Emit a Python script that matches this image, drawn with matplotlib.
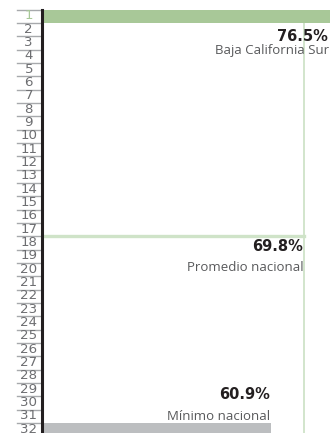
import matplotlib.pyplot as plt
from matplotlib.transforms import blended_transform_factory

# ranking positions and the values shown
ranks = list(range(1, 33))
top_rank = 1
top_value = 76.5
top_label = "Baja California Sur"
min_rank = 32
min_value = 60.9
min_label = "Mínimo nacional"
avg_value = 69.8
avg_label = "Promedio nacional"

green = "#a8c898"
light_green = "#cfe3c8"
gray_bar = "#bcbec0"
num_gray = "#6d6e71"

fig = plt.figure(figsize=(3.31, 4.33), dpi=100)
ax = fig.add_axes([42 / 331, 0, 289 / 331, 423.5 / 433])
ax.set_xlim(0, 289 / 3.76)
ax.set_ylim(32.26, 0.5)

# bars for first and last place
ax.barh(top_rank, top_value, height=1.0, color=green, zorder=2)
ax.barh(min_rank, min_value, height=1.0, color=gray_bar, zorder=2)

# national average: horizontal mark and vertical reference line
ax.plot([0, avg_value], [17.5, 17.5], color=light_green, lw=2.4, zorder=1)
ax.plot([avg_value, avg_value], [1.5, 32.5], color=light_green, lw=1.3, zorder=1)

# rank numbers with underlines
tr = blended_transform_factory(ax.transAxes, ax.transData)
for r in ranks:
    c = green if r == top_rank else num_gray
    ax.text(-0.046, r - 0.03, str(r), transform=tr, ha="center", va="center",
            fontsize=9.6, color=c, family=["Liberation Sans Narrow", "DejaVu Sans"],
            clip_on=False)
for b in range(0, 33):
    ax.plot([-0.087, 0.0], [b + 0.5, b + 0.5], transform=tr, color="#a7a9ac",
            lw=1.0, clip_on=False)

# annotations
bold = dict(fontsize=10.5, fontweight="heavy", color="#231f20", ha="right", va="center",
            family=["DejaVu Sans"])
light = dict(fontsize=9.5, color="#58595b", ha="right", va="center", family=["Open Sans", "DejaVu Sans"])
ax.text(top_value - 0.6, 2.56, f"{top_value}%", **bold)
ax.text(top_value - 0.1, 3.6, top_label, **light)
ax.text(avg_value - 0.3, 18.26, f"{avg_value}%", **bold)
ax.text(avg_value - 0.3, 19.83, avg_label, **light)
ax.text(min_value - 0.3, 29.37, f"{min_value}%", **bold)
ax.text(min_value - 0.3, 31.02, min_label, **light)

for s in ["top", "right", "bottom"]:
    ax.spines[s].set_visible(False)
ax.spines["left"].set_linewidth(2.2)
ax.spines["left"].set_color("#231f20")
ax.set_xticks([])
ax.set_yticks([])

fig.savefig("out.png", dpi=100)
